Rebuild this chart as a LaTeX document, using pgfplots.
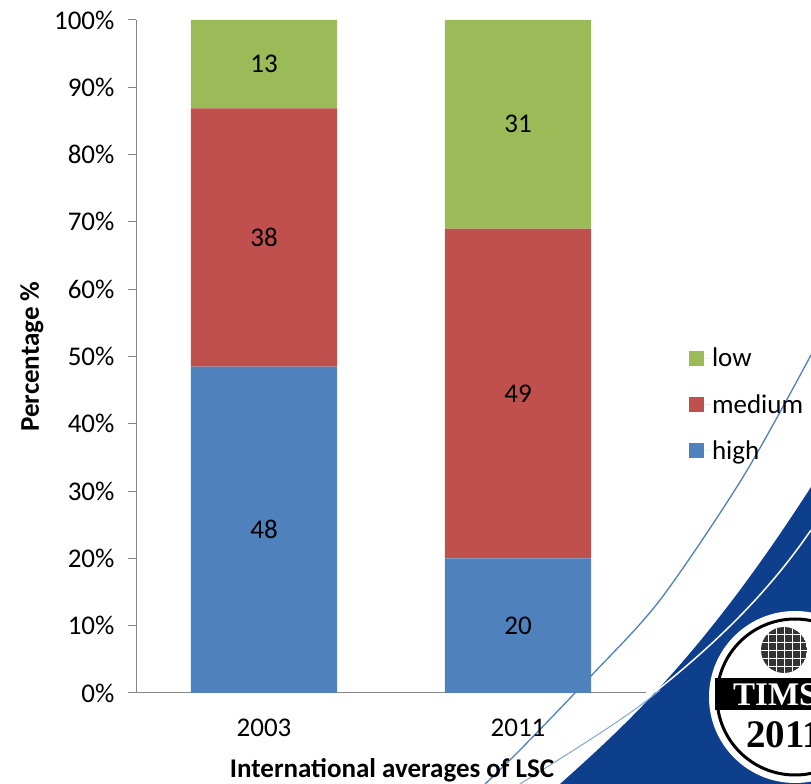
\documentclass[border=0pt]{standalone}
\usepackage{fontspec}
\setmainfont{Carlito}
\newfontfamily\logofont{Liberation Serif}
\usepackage{pgfplots}
\usepackage{pgfplotstable}
\pgfplotsset{compat=1.18}

\definecolor{xlgreen}{HTML}{9BBB59}
\definecolor{xlred}{HTML}{C0504D}
\definecolor{xlblue}{HTML}{4F81BD}
\definecolor{axgray}{HTML}{868686}
\definecolor{timssblue}{HTML}{0E3F8C}
\definecolor{swoosh}{HTML}{4B80C2}

\newcommand{\fs}{\fontsize{27}{32}\selectfont}

% share of each level (scaled to 100%)
\pgfplotstableread{
x pct
0 48.485
1 20
}\high
\pgfplotstableread{
x pct
0 38.384
1 49
}\medium
\pgfplotstableread{
x pct
0 13.131
1 31
}\low
% printed values, at the middle of each segment
\pgfplotstableread{
x mid n
0 24.24 48
0 67.68 38
0 93.43 13
1 10.0 20
1 44.5 49
1 84.5 31
}\labels

\pgfplotsset{frame/.style={
  at={(136pt,91pt)}, anchor=south west,
  scale only axis, width=510pt, height=673pt,
  xmin=-0.504, xmax=1.504, ymin=0, ymax=100,
  /pgf/number format/assume math mode=true}}

\begin{document}
\begin{tikzpicture}
\path[use as bounding box] (0,0) rectangle (811pt,784pt);
\clip (0,0) rectangle (811pt,784pt);

% slide decoration, bottom right
\begin{scope}[x=1pt,y=-1pt,yshift=784pt]
  \fill[timssblue] (560,784) .. controls (620,730) and (700,660) .. (811,487) -- (811,784) -- cycle;
  \draw[white, line width=1.5pt] (655,692) .. controls (720,640) and (770,590) .. (811,530);
  \draw[swoosh, line width=1.3pt] plot[smooth] coordinates
    {(485,784) (520,750) (590,677) (660,600) (743,477) (811,355)};
  \draw[swoosh!70, line width=1pt] (520,784) .. controls (590,740) and (630,715) .. (660,690);
  \fill[white] (795,697) circle (86);
  \draw[black, line width=3pt] (795,697) circle (78);
  \fill[black] (715,678) rectangle (880,710);
  \begin{scope}
    \clip (784,650) circle (23);
    \fill[black!80] (784,650) circle (23);
    \foreach \d in {-16,-8,0,8,16} {
      \draw[white, line width=0.8pt] (760,650+\d) -- (810,650+\d);
      \draw[white, line width=0.8pt] (784+\d,625) -- (784+\d,675);
    }
  \end{scope}
  \node[white, font=\logofont\bfseries\fontsize{33}{33}\selectfont, anchor=west, inner sep=0pt] at (733,695) {TIMSS};
  \node[black, font=\logofont\bfseries\fontsize{39}{39}\selectfont, anchor=west, inner sep=0pt] at (746,735) {2011};
\end{scope}

\begin{axis}[
  frame,
  ybar stacked, bar width=0.575,
  xtick={0,1}, xticklabels={2003,2011},
  ytick={0,10,...,100},
  yticklabel={\pgfmathprintnumber{\tick}\%},
  axis x line*=bottom, axis y line*=left,
  axis line style={axgray, line width=1pt, -},
  major x tick style={draw=none},
  major y tick style={axgray, line width=1pt},
  tick align=outside, major tick length=8pt,
  tick label style={font=\fs, black},
  yticklabel style={xshift=-10pt},
  xticklabel style={anchor=base, yshift=-36pt},
  xlabel={International averages of LSC},
  ylabel={Percentage \%},
  label style={font=\fs\bfseries},
  xlabel style={at={(axis description cs:0.502,-0.1145)}, anchor=center},
  ylabel style={at={(axis description cs:-0.204,0.5)}, anchor=center},
  reverse legend,
  legend cell align=left,
  legend image code/.code={\fill[#1] (0pt,-7.5pt) rectangle (15pt,7.5pt);
    \path (0pt,0pt) -- (21pt,0pt);},
  legend style={at={(axis description cs:1.084,0.4287)}, anchor=west,
    draw=none, fill=none, font=\fs, row sep=22pt, inner sep=0pt},
]
\addplot[fill=xlblue, draw=none] table[x=x, y=pct] {\high};
\addplot[fill=xlred, draw=none] table[x=x, y=pct] {\medium};
\addplot[fill=xlgreen, draw=none] table[x=x, y=pct] {\low};
\legend{high, medium, low}
\end{axis}

\begin{axis}[frame, hide axis]
\addplot[only marks, mark=none, nodes near coords, point meta=explicit,
  every node near coord/.append style={font=\fs, black, anchor=center}]
  table[x=x, y=mid, meta=n] {\labels};
\end{axis}
\end{tikzpicture}
\end{document}
